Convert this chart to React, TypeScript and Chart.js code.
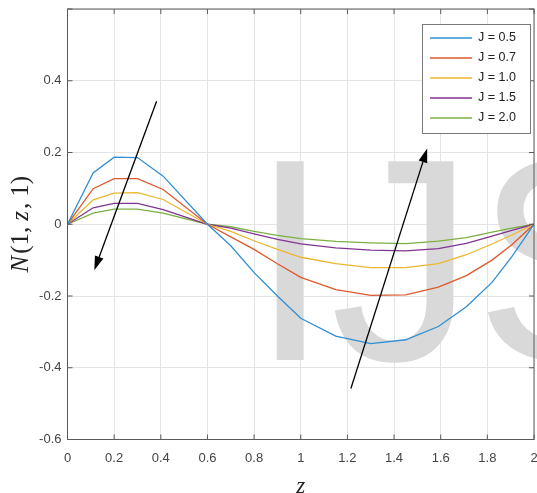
import React, { useEffect, useRef } from 'react';
import { Chart, registerables } from 'chart.js';

Chart.register(...registerables);

// z positions of the solution mesh
const zValues = [0, 0.11, 0.2, 0.3, 0.41, 0.6, 0.7, 0.8, 0.9, 1.0, 1.15, 1.3, 1.45, 1.59, 1.71, 1.82, 1.905, 2];

const seriesLabels = ['J = 0.5', 'J = 0.7', 'J = 1.0', 'J = 1.5', 'J = 2.0'];
const seriesColors = ['#2f8fd2', '#dd5a2c', '#ecb62e', '#803592', '#7cb043'];

const nJ05 = [0, 0.143, 0.187, 0.186, 0.134, 0, -0.06, -0.135, -0.2, -0.262, -0.312, -0.333, -0.322, -0.285, -0.23, -0.162, -0.09, 0];
const nJ07 = [0, 0.099, 0.127, 0.127, 0.097, 0, -0.035, -0.07, -0.11, -0.148, -0.182, -0.198, -0.197, -0.175, -0.143, -0.1, -0.057, 0];
const nJ10 = [0, 0.068, 0.087, 0.088, 0.069, 0, -0.02, -0.046, -0.07, -0.092, -0.11, -0.121, -0.121, -0.11, -0.085, -0.055, -0.03, 0];
const nJ15 = [0, 0.046, 0.058, 0.058, 0.041, 0, -0.011, -0.027, -0.042, -0.055, -0.066, -0.072, -0.074, -0.068, -0.053, -0.033, -0.017, 0];
const nJ20 = [0, 0.031, 0.042, 0.042, 0.031, 0, -0.007, -0.02, -0.031, -0.04, -0.048, -0.052, -0.054, -0.047, -0.037, -0.022, -0.011, 0];

const seriesValues = [nJ05, nJ07, nJ10, nJ15, nJ20];

const xTicks = [0, 0.2, 0.4, 0.6, 0.8, 1, 1.2, 1.4, 1.6, 1.8, 2];
const yTicks = [-0.6, -0.4, -0.2, 0, 0.2, 0.4, 0.6];

// annotation arrows in data coordinates: [zFrom, nFrom, zTo, nTo]
const arrowDecrease = [0.382, 0.343, 0.115, -0.128];
const arrowIncrease = [1.215, -0.458, 1.542, 0.211];

const watermarkText = 'IJS';

const fmt = (v: number) => String(Number(v.toFixed(1)));

const overlayPlugin = {
  id: 'overlay',
  beforeDatasetsDraw(chart: any) {
    const { ctx } = chart;
    ctx.save();
    ctx.fillStyle = '#d9d9d9';
    ctx.font = '289px "Liberation Sans", Arial, sans-serif';
    ctx.textBaseline = 'alphabetic';
    ctx.textAlign = 'left';
    ctx.fillText(watermarkText, 250, 360);
    ctx.restore();
  },
  afterDatasetsDraw(chart: any) {
    const { ctx, chartArea: a, scales } = chart;
    const xs = scales.x;
    const ys = scales.y;
    ctx.save();
    // box
    ctx.strokeStyle = '#5a5a5a';
    ctx.lineWidth = 1;
    ctx.strokeRect(a.left, a.top, a.right - a.left, a.bottom - a.top);
    // inward ticks
    ctx.beginPath();
    for (const t of xTicks) {
      const px = xs.getPixelForValue(t);
      ctx.moveTo(px, a.bottom);
      ctx.lineTo(px, a.bottom - 5);
      ctx.moveTo(px, a.top);
      ctx.lineTo(px, a.top + 5);
    }
    for (const t of yTicks) {
      const py = ys.getPixelForValue(t);
      ctx.moveTo(a.left, py);
      ctx.lineTo(a.left + 5, py);
      ctx.moveTo(a.right, py);
      ctx.lineTo(a.right - 5, py);
    }
    ctx.stroke();

    // arrows
    const drawArrow = (arr: number[]) => {
      const x1 = xs.getPixelForValue(arr[0]);
      const y1 = ys.getPixelForValue(arr[1]);
      const x2 = xs.getPixelForValue(arr[2]);
      const y2 = ys.getPixelForValue(arr[3]);
      const ang = Math.atan2(y2 - y1, x2 - x1);
      const len = 14;
      const hw = 4.5;
      const bx = x2 - len * Math.cos(ang);
      const by = y2 - len * Math.sin(ang);
      ctx.strokeStyle = '#000';
      ctx.lineWidth = 1.3;
      ctx.beginPath();
      ctx.moveTo(x1, y1);
      ctx.lineTo(bx, by);
      ctx.stroke();
      ctx.fillStyle = '#000';
      ctx.beginPath();
      ctx.moveTo(x2, y2);
      ctx.lineTo(bx + hw * Math.sin(ang), by - hw * Math.cos(ang));
      ctx.lineTo(bx - hw * Math.sin(ang), by + hw * Math.cos(ang));
      ctx.closePath();
      ctx.fill();
    };
    drawArrow(arrowDecrease);
    drawArrow(arrowIncrease);

    // legend
    const ds = chart.data.datasets;
    const bw = 108;
    const rowH = 20;
    const bh = ds.length * rowH + 9;
    const bx0 = a.right - 4 - bw;
    const by0 = a.top + 15;
    ctx.fillStyle = '#ffffff';
    ctx.fillRect(bx0, by0, bw, bh);
    ctx.strokeStyle = '#7a7a7a';
    ctx.lineWidth = 1;
    ctx.strokeRect(bx0 + 0.5, by0 + 0.5, bw, bh);
    ctx.font = '12.5px "Liberation Sans", Arial, sans-serif';
    ctx.textBaseline = 'middle';
    ctx.textAlign = 'left';
    ds.forEach((d: any, i: number) => {
      const cy = by0 + 14 + i * rowH;
      ctx.strokeStyle = d.borderColor;
      ctx.lineWidth = 1.3;
      ctx.beginPath();
      ctx.moveTo(bx0 + 8, cy);
      ctx.lineTo(bx0 + 50, cy);
      ctx.stroke();
      ctx.fillStyle = '#222';
      ctx.fillText(d.label, bx0 + 56, cy);
    });

    // axis titles
    ctx.fillStyle = '#222';
    ctx.textBaseline = 'middle';
    ctx.textAlign = 'center';
    ctx.font = 'italic 23px "Liberation Serif", "Times New Roman", serif';
    ctx.fillText('z', (a.left + a.right) / 2, 487);

    const parts: [string, boolean, number][] = [['N', true, 2], ['(1,', false, 6], ['z', true, 2], [',', false, 6], ['1)', false, 0]];
    const fItal = 'italic 25px "Liberation Serif", "Times New Roman", serif';
    const fNorm = '25px "Liberation Serif", "Times New Roman", serif';
    let total = 0;
    const widths = parts.map(([s, it, gap]) => {
      ctx.font = it ? fItal : fNorm;
      const w = ctx.measureText(s).width + gap;
      total += w;
      return w;
    });
    ctx.translate(21, (a.top + a.bottom) / 2);
    ctx.rotate(-Math.PI / 2);
    ctx.textAlign = 'left';
    let xx = -total / 2;
    parts.forEach(([s, it], i) => {
      ctx.font = it ? fItal : fNorm;
      ctx.fillText(s, xx, 0);
      xx += widths[i];
    });
    ctx.restore();
  },
};

export default function App() {
  const ref = useRef<HTMLCanvasElement | null>(null);

  useEffect(() => {
    document.body.style.margin = '0';
    const canvas = ref.current;
    if (!canvas) return;
    const datasets = seriesValues.map((vals, i) => ({
      label: seriesLabels[i],
      data: vals.map((v, k) => ({ x: zValues[k], y: v })),
      borderColor: seriesColors[i],
      backgroundColor: seriesColors[i],
      borderWidth: 1.3,
      pointRadius: 0,
      tension: 0,
      fill: false,
    }));
    const chart = new Chart(canvas, {
      type: 'line',
      data: { datasets },
      options: {
        responsive: false,
        animation: false,
        devicePixelRatio: 1,
        layout: { padding: { top: 9, right: 3, left: 0, bottom: 0 } },
        plugins: { legend: { display: false }, tooltip: { enabled: false } },
        scales: {
          x: {
            type: 'linear',
            min: 0,
            max: 2,
            afterFit: (s: any) => {
              s.height = 53.5;
              s.paddingLeft = 0;
              s.paddingRight = 0;
              s.paddingTop = 0;
              s.paddingBottom = 0;
            },
            afterBuildTicks: (s: any) => { s.ticks = xTicks.map((v) => ({ value: v })); },
            ticks: {
              callback: (v: any) => fmt(Number(v)),
              font: { family: '"Liberation Sans", Arial, sans-serif', size: 13 },
              color: '#444',
              padding: 11,
              maxRotation: 0,
              autoSkip: false,
            },
            grid: { color: '#e4e4e4', drawTicks: false, lineWidth: 1 },
            border: { display: false },
          },
          y: {
            type: 'linear',
            min: -0.6,
            max: 0.6,
            afterFit: (s: any) => {
              s.width = 67.5;
              s.paddingLeft = 0;
              s.paddingRight = 0;
              s.paddingTop = 0;
              s.paddingBottom = 0;
            },
            afterBuildTicks: (s: any) => { s.ticks = yTicks.map((v) => ({ value: v })); },
            ticks: {
              callback: (v: any) => (Math.abs(Number(v) - 0.6) < 1e-9 ? '' : fmt(Number(v))),
              font: { family: '"Liberation Sans", Arial, sans-serif', size: 13 },
              color: '#444',
              padding: 6,
              autoSkip: false,
            },
            grid: { color: '#e4e4e4', drawTicks: false, lineWidth: 1 },
            border: { display: false },
          },
        },
      },
      plugins: [overlayPlugin],
    });
    return () => chart.destroy();
  }, []);

  return <canvas ref={ref} width={537} height={493} style={{ display: 'block', width: 537, height: 493 }} />;
}
